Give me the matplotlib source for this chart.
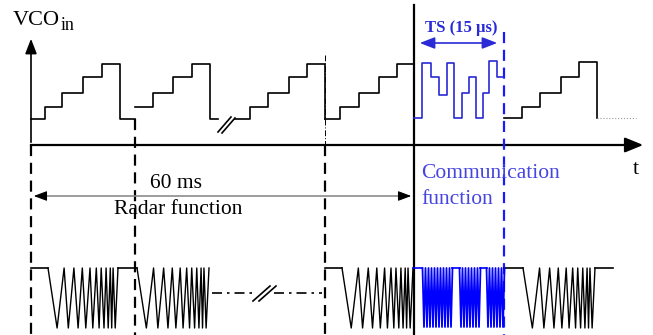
import matplotlib
matplotlib.use('Agg')
import matplotlib.pyplot as plt

# --- diagram data (pixel coordinates of the 653x335 canvas) ---
# upper trace: staircase ramps (x edges, y levels, step 'post')
stairs = [
    ([31, 45, 62, 83, 102, 120, 135], [119, 107, 93, 77, 64, 119, 119]),
    ([135, 153, 173, 192, 210, 218], [107, 93, 77, 64, 119, 119]),
    ([235, 250, 268, 289, 307, 325, 325], [119, 107, 93, 77, 64, 119, 119]),
    ([325, 340, 359, 379, 397, 414], [119, 107, 93, 77, 64, 64]),
    ([504, 522, 540, 561, 579, 597, 597], [118, 107, 93, 77, 62, 118, 118]),
]
# communication slot: random data steps
comm_x = [414, 422, 431, 439, 447, 454, 462, 469, 476, 483, 489, 497, 503]
comm_y = [118, 63, 77, 95, 63, 118, 93, 77, 118, 93, 61, 77, 77]

# lower trace: chirp peak/trough positions as fraction of the chirp width
chirp_fracs = [0, 0.13, 0.23, 0.29, 0.37, 0.43, 0.49, 0.54, 0.60, 0.64, 0.69,
               0.73, 0.76, 0.80, 0.83, 0.86, 0.89, 0.91, 0.93, 0.96, 1.0]
chirp_spans = [(48, 118), (137, 209), (342, 413), (523, 595)]
flat_spans = [(31, 48), (118, 137), (325, 342), (504, 523), (595, 613)]
comm_troughs = [[424, 427, 430, 433, 436, 439, 442, 445, 448, 451],
                [461, 464, 467, 470, 473, 476, 479],
                [488, 491, 494, 497, 500, 503]]
comm_flats = [(413, 422), (452, 460), (480, 487)]

TOP, BOT = 268, 328
BLUE = '#2a2ad6'
SERIF = ['Liberation Serif', 'DejaVu Serif']

fig = plt.figure(figsize=(6.53, 3.35), dpi=100)
ax = fig.add_axes([0, 0, 1, 1])
ax.set_xlim(0, 653)
ax.set_ylim(335, 0)
ax.axis('off')

# axes with arrows
ax.plot([31, 630], [145, 145], color='black', lw=1.6)
ax.annotate('', xy=(646, 145), xytext=(626, 145),
            arrowprops=dict(arrowstyle='-|>,head_length=1.1,head_width=0.45',
                            color='black', lw=1.6))
ax.annotate('', xy=(31, 36), xytext=(31, 145),
            arrowprops=dict(arrowstyle='-|>,head_length=0.9,head_width=0.35',
                            color='black', lw=1.2))

# vertical markers
ax.plot([31, 31], [145, 335], color='black', lw=1.6, ls=(0, (5, 3)))
ax.plot([135, 135], [119, 335], color='black', lw=1.6, ls=(0, (5, 3)))
ax.plot([325, 325], [55, 145], color='black', lw=0.7, ls=(0, (6, 2, 1, 2)))
ax.plot([325, 325], [145, 335], color='black', lw=1.6, ls=(0, (5, 3)))
ax.plot([414, 414], [5, 335], color='black', lw=1.6)
ax.plot([504, 504], [32, 335], color='#1a1aff', lw=1.6, ls=(0, (5, 3)))

# staircases
for xs, ys in stairs:
    ax.step(xs, ys, where='post', color='black', lw=1.2)
ax.plot([597, 636], [118, 118], color='#999999', lw=0.8, ls=':')
ax.step(comm_x, comm_y, where='post', color=BLUE, lw=1.2)

# upper break mark
ax.plot([218, 231], [132, 117], color='black', lw=1.2)
ax.plot([222, 235], [133, 118], color='black', lw=1.2)

# chirps
for x0, x1 in chirp_spans:
    xs = [x0 + f * (x1 - x0) for f in chirp_fracs]
    ys = [TOP if i % 2 == 0 else BOT for i in range(len(chirp_fracs))]
    ax.plot(xs, ys, color='black', lw=1.0)
for x0, x1 in flat_spans:
    ax.plot([x0, x1], [TOP, TOP], color='black', lw=1.2)

for group in comm_troughs:
    xs, ys = [], []
    for t in group:
        xs += [t - 1.5, t, t + 1.5]
        ys += [TOP, BOT - 1, TOP]
    ax.plot(xs, ys, color='#0000ff', lw=1.3)
for x0, x1 in comm_flats:
    ax.plot([x0, x1], [TOP, TOP], color='#0000ff', lw=1.2)

# lower break (dash-dot)
ax.plot([212, 256], [293, 293], color='black', lw=1.2, ls=(0, (6, 3, 1.5, 3)))
ax.plot([274, 322], [293, 293], color='black', lw=1.2, ls=(0, (6, 3, 1.5, 3)))
ax.plot([253, 270], [301, 286], color='black', lw=1.2)
ax.plot([259, 276], [301, 286], color='black', lw=1.2)

# 60 ms span arrow
ax.plot([38, 407], [196, 196], color='#8c8c8c', lw=1.2)
for tip, tail in [(31, 42), (414, 403)]:
    ax.annotate('', xy=(tip, 196), xytext=(tail, 196),
                arrowprops=dict(arrowstyle='-|>,head_length=0.8,head_width=0.3',
                                color='black', lw=0.8))

# TS arrow
ax.annotate('', xy=(417, 43), xytext=(500, 43),
            arrowprops=dict(arrowstyle='<|-|>,head_length=0.9,head_width=0.35',
                            color=BLUE, lw=1.2))

# text
ax.text(13, 25, 'VCO', fontsize=16, family=SERIF, va='baseline')
ax.text(61, 30, 'in', fontsize=13, family=SERIF, va='baseline')
ax.text(461, 28, 'TS (15 µs)', fontsize=12, family=SERIF, weight='bold',
        color=BLUE, ha='center', va='center')
ax.text(176, 184, '60 ms', fontsize=15.5, family=SERIF, ha='center', va='center')
ax.text(178, 210, 'Radar function', fontsize=15.5, family=SERIF,
        ha='center', va='center')
ax.text(421, 173, 'Communication', fontsize=15.5, family=SERIF, color='#4545e0',
        ha='left', va='center')
ax.text(421, 200, 'function', fontsize=15.5, family=SERIF, color='#4545e0',
        ha='left', va='center')
ax.text(636, 170, 't', fontsize=16, family=SERIF, ha='center', va='center')

fig.savefig('out.png', dpi=100)
